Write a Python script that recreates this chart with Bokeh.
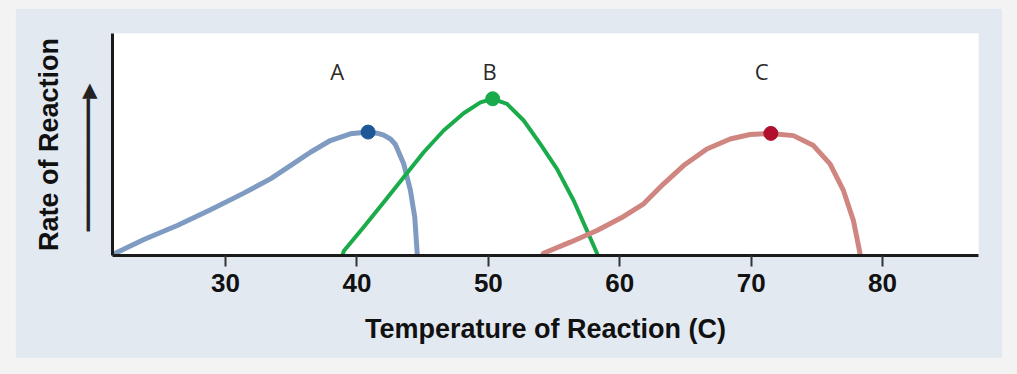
from bokeh.plotting import figure
from bokeh.models import Range1d, FixedTicker, ColumnDataSource, LinearAxis
from bokeh.embed import file_html
from bokeh.resources import INLINE
from bokeh.core.templates import get_env

# Data
a_temp = [21.4, 21.77, 23.79, 26.33, 28.86, 31.39, 33.42, 34.94, 36.46, 37.98, 39.5, 40.85,
          41.53, 42.04, 42.55, 42.93, 43.18, 43.56, 44.07, 44.4, 44.58, 44.6]
a_rate = [0.0, 0.015, 0.072, 0.135, 0.206, 0.281, 0.345, 0.405, 0.465, 0.518, 0.548, 0.556,
          0.551, 0.542, 0.525, 0.5, 0.465, 0.413, 0.293, 0.173, 0.015, 0.0]
b_temp = [38.9, 39.0, 40.52, 42.04, 43.56, 45.08, 46.6, 48.12, 49.4, 50.33, 51.42, 52.69,
          53.95, 55.22, 56.49, 57.5, 58.27, 58.3]
b_rate = [0.0, 0.02, 0.128, 0.24, 0.353, 0.465, 0.563, 0.641, 0.69, 0.706, 0.683, 0.608,
          0.503, 0.39, 0.248, 0.113, 0.01, 0.0]
c_temp = [54.1, 54.2, 56.24, 58.27, 60.3, 61.82, 63.34, 64.86, 66.63, 68.4, 69.92, 71.5,
          73.22, 74.74, 76.0, 77.02, 77.78, 78.24, 78.3]
c_rate = [0.0, 0.01, 0.06, 0.113, 0.176, 0.233, 0.323, 0.405, 0.48, 0.525, 0.545, 0.55,
          0.54, 0.495, 0.413, 0.293, 0.158, 0.023, 0.0]
peak_temp = [40.85, 50.33, 71.5]
peak_rate = [0.556, 0.706, 0.55]
curve_names = ["A", "B", "C"]
name_temp = [38.5, 50.1, 70.8]
name_rate = [0.83, 0.83, 0.83]
x_ticks = [30, 40, 50, 60, 70, 80]

line_colors = ["#7f9bc2", "#1aab4a", "#cf8580"]
dot_colors = ["#1d5796", "#19aa4b", "#b0102c"]

p = figure(width=987, height=350, output_backend="svg", toolbar_location=None,
           x_range=Range1d(21.4, 87.3), y_range=Range1d(0, 1),
           min_border_left=97, min_border_right=24, min_border_top=25, min_border_bottom=103,
           frame_width=866, frame_height=222)
p.margin = (8, 15, 16, 15)
p.background_fill_color = "white"
p.border_fill_color = "#e3e9f1"
p.outline_line_color = None
p.xgrid.visible = False
p.ygrid.visible = False

# x axis
p.xaxis.ticker = FixedTicker(ticks=x_ticks)
p.xaxis.minor_tick_line_color = None
p.xaxis.major_tick_in = 0
p.xaxis.major_tick_out = 11
p.xaxis.major_tick_line_width = 2
p.xaxis.major_tick_line_color = "#333333"
p.xaxis.axis_line_width = 3
p.xaxis.axis_line_color = "#1a1a1a"
p.xaxis.major_label_text_font = "Liberation Sans"
p.xaxis.major_label_text_font_style = "bold"
p.xaxis.major_label_text_font_size = "26px"
p.xaxis.major_label_text_color = "#111111"
p.xaxis.major_label_standoff = 7
p.xaxis.axis_label = "Temperature of Reaction (C)"
p.xaxis.axis_label_text_font = "Liberation Sans"
p.xaxis.axis_label_text_font_style = "bold"
p.xaxis.axis_label_text_font_size = "27px"
p.xaxis.axis_label_text_color = "#111111"
p.xaxis.axis_label_standoff = 19

# y axis: line plus the up arrow as its label
ya = p.yaxis[0]
ya.ticker = FixedTicker(ticks=[])
ya.minor_tick_line_color = None
ya.major_tick_line_color = None
ya.major_tick_in = 0
ya.major_tick_out = 0
ya.minor_tick_out = 0
ya.axis_line_width = 3
ya.axis_line_color = "#1a1a1a"
ya.axis_label = "\u2501" * 11 + "\u25b6" + "\u00a0" * 4
ya.axis_label_text_font = "DejaVu Sans"
ya.axis_label_text_font_size = "20px"
ya.axis_label_text_color = "#222222"
ya.axis_label_standoff = 13

# second left axis carrying the title
ya2 = LinearAxis(ticker=FixedTicker(ticks=[]), axis_line_color=None,
                 major_tick_line_color=None, minor_tick_line_color=None,
                 major_tick_out=0, minor_tick_out=0, major_tick_in=0,
                 axis_label="Rate of Reaction", axis_label_standoff=9,
                 axis_label_text_font="Liberation Sans", axis_label_text_font_style="bold",
                 axis_label_text_font_size="27px", axis_label_text_color="#111111")
p.add_layout(ya2, "left")

# curves
for xs, ys, col, w in [(a_temp, a_rate, line_colors[0], 5),
                       (b_temp, b_rate, line_colors[1], 4),
                       (c_temp, c_rate, line_colors[2], 5)]:
    p.line(xs, ys, line_color=col, line_width=w, line_join="round", line_cap="butt")

p.scatter(peak_temp, peak_rate, size=14, fill_color=dot_colors, line_color=dot_colors)

src = ColumnDataSource(dict(x=name_temp, y=name_rate, t=curve_names))
p.text(x="x", y="y", text="t", source=src, text_align="center", text_baseline="middle",
       text_font_size="22px", text_color="#2a2a2a", text_font={"value": "Open Sans"})

page = get_env().from_string(
    "{% extends 'file.html' %}"
    "{% block postamble %}<style>body { background-color: #f3f3f3; }</style>{% endblock %}"
)

open("out.html", "w").write(file_html(p, INLINE, template=page))
